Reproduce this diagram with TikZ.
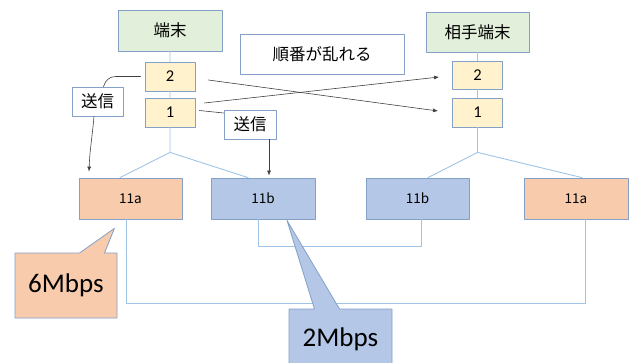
\documentclass[tikz,border=0pt]{standalone}
\usepackage{fontspec}
\setmainfont{Carlito}
\newfontfamily\jpfont{Noto Sans CJK JP}
\usetikzlibrary{arrows.meta,shapes.callouts}
\definecolor{edgeblue}{RGB}{132,160,199}
\definecolor{linkblue}{RGB}{160,196,230}
\definecolor{termgreen}{RGB}{226,239,218}
\definecolor{pktyellow}{RGB}{255,242,204}
\definecolor{fastpeach}{RGB}{248,203,173}
\definecolor{slowblue}{RGB}{180,199,231}
\begin{document}
\begin{tikzpicture}[x=1pt, y=-1pt, line join=round, line cap=round,
	box/.style={draw=edgeblue, line width=0.8pt, inner sep=0pt, font=\jpfont\fontsize{16.5}{19}\selectfont},
	term/.style={box, fill=termgreen, minimum width=104pt, minimum height=41pt},
	pkt/.style={box, fill=pktyellow, minimum width=50pt, minimum height=29pt, font=\fontsize{16.5}{18}\selectfont},
	tag/.style={box, fill=white, minimum width=51pt, minimum height=29pt},
	port/.style={box, minimum width=103pt, minimum height=41pt, font=\jpfont\fontsize{13.5}{15}\selectfont},
	rate/.style={rectangle callout, draw=edgeblue, line width=0.8pt, callout pointer width=25pt, font=\fontsize{27}{30}\selectfont},
	link/.style={draw=linkblue, line width=0.9pt},
	send/.style={draw=black!75, line width=0.6pt, -{Latex[length=5pt,width=4pt]}}]
	\clip (0,0) rectangle (631,362);
	% terminals and packet queues
	\node[term] (tanmatsu) at (170,30.5) {端末};
	\node[term, minimum width=103pt, minimum height=40pt] (aite) at (477.5,32) {相手端末};
	\node[box, fill=white, minimum width=164pt, minimum height=40pt] (junban) at (322,54) {順番が乱れる};
	\node[pkt] (pktLtwo) at (170,76.5) {2};
	\node[pkt] (pktLone) at (170,112.5) {1};
	\node[pkt, minimum height=28pt] (pktRtwo) at (477.5,75) {2};
	\node[pkt] (pktRone) at (477.5,112.5) {1};
	% interfaces
	\node[port, fill=fastpeach] (apL) at (130.5,198.5) {11a};
	\node[port, fill=slowblue, minimum width=104pt] (bpL) at (263,198.5) {11b};
	\node[port, fill=slowblue] (bpR) at (417.5,198.5) {11b};
	\node[port, fill=fastpeach, minimum width=104pt] (apR) at (576,198.5) {11a};
	\node[tag] (sendA) at (97.5,101.5) {送信};
	\node[tag, minimum width=52pt] (sendB) at (250,124.5) {送信};
	\coordinate (brL) at ([yshift=-25pt]pktLone.south);
	\coordinate (brR) at ([yshift=-25pt]pktRone.south);
	% tree links
	\path[link] (tanmatsu) -- (pktLtwo) -- (pktLone) -- (brL)
		(brL) -- ([xshift=-10.5pt]apL.north) (brL) -- ([xshift=-15pt]bpL.north);
	\path[link] (aite) -- (pktRtwo) -- (pktRone) -- (brR)
		(brR) -- ([xshift=10.5pt]bpR.north) (brR) -- ([xshift=6pt]apR.north);
	\path[link] ([xshift=-5pt]bpL.south) -- ++(0,27) -| ([xshift=3.5pt]bpR.south);
	\path[link] ([xshift=-4.5pt]apL.south) -- ++(0,84) -| ([xshift=9pt]apR.south);
	% sending packets
	\draw[draw=black!75, line width=0.6pt] ([xshift=-4pt]pktLtwo.west) -- ++(-25,0)
		to[out=180, in=75] ([xshift=6pt]sendA.north);
	\draw[send] ([xshift=-3.5pt]sendA.south) to[out=-95, in=88] ([xshift=-41.5pt, yshift=6pt]apL.north);
	\draw[draw=black!75, line width=0.6pt] ([xshift=4pt, yshift=2pt]pktLone.east) -- ([yshift=11.5pt]sendB.west);
	\draw[send] ([xshift=19pt]sendB.south) -- ([xshift=6pt, yshift=2pt]bpL.north);
	\draw[send] ([xshift=13pt, yshift=-3.5pt]pktLtwo.east) -- ([xshift=-14pt, yshift=1.5pt]pktRone.west);
	\draw[send] ([xshift=9pt, yshift=9.5pt]pktLone.east) -- ([xshift=-13pt, yshift=-2pt]pktRtwo.west);
	% link rates
	\node[rate, fill=fastpeach, minimum width=102pt, minimum height=65pt,
		callout absolute pointer={([xshift=-68pt, yshift=-9pt]apL.south east)}] (fast) at (66,285.5) {6Mbps};
	\node[rate, fill=slowblue, minimum width=103pt, minimum height=60pt,
		callout absolute pointer={([xshift=24pt, yshift=-1pt]bpL.south)}] (slow) at (340.5,339) {2Mbps};
\end{tikzpicture}
\end{document}
